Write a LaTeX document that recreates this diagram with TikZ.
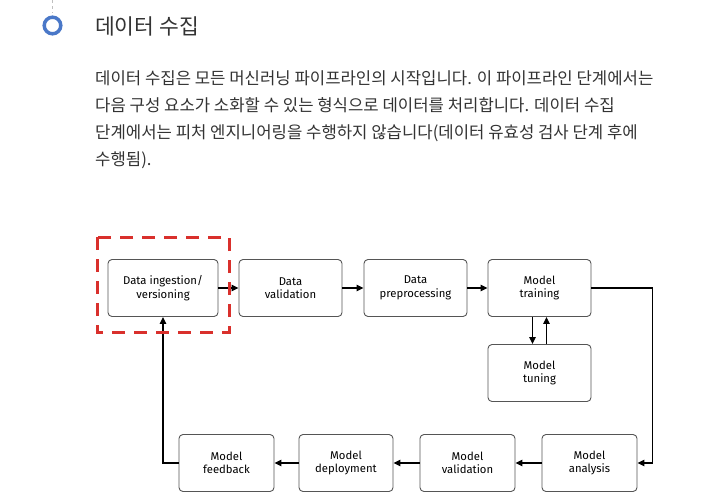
\documentclass[tikz,border=0pt]{standalone}
\usepackage{fontspec}
\setmainfont{Fira Sans}
\newfontfamily\krfont{Noto Sans CJK KR}
\usetikzlibrary{arrows.meta}
\definecolor{ringblue}{HTML}{4A78C8}
\definecolor{markred}{HTML}{D9302C}
\definecolor{textgray}{HTML}{333333}
\definecolor{boxgray}{HTML}{555555}

\begin{document}
\begin{tikzpicture}[x=1pt,y=-1pt]
	\useasboundingbox (0,0) rectangle (717,501);
	% heading
	\draw[gray!50, dashed, line width=0.8pt] (52,0) -- (52,13);
	\draw[ringblue, line width=3.5pt] (52.5,25.5) circle (8.3);
	\node[anchor=west, inner sep=0pt, text=textgray,
	      font=\krfont\fontsize{21.5}{24}\selectfont] (title) at (95,26.5) {데이터 수집};
	\node[anchor=north west, inner sep=0pt, align=left, text=textgray,
	      font=\krfont\fontsize{16.7}{27.3}\selectfont] (para) at (95,70)
		{데이터 수집은 모든 머신러닝 파이프라인의 시작입니다. 이 파이프라인 단계에서는\\
		다음 구성 요소가 소화할 수 있는 형식으로 데이터를 처리합니다. 데이터 수집\\
		단계에서는 피처 엔지니어링을 수행하지 않습니다(데이터 유효성 검사 단계 후에\\
		수행됨).};

	\begin{scope}[every node/.style={draw=boxgray, line width=0.9pt, rounded corners=4pt,
	              align=center, font=\fontsize{11.3}{13.5}\selectfont, minimum height=57pt}]
		\node[minimum width=110pt] (1) at (163,288) {Data ingestion/\\versioning};
		\node[minimum width=103pt] (2) at (290.5,288) {Data\\validation};
		\node[minimum width=103pt] (3) at (415.5,288) {Data\\preprocessing};
		\node[minimum width=103pt] (4) at (539.5,288) {Model\\training};
		\node[minimum width=103pt] (5) at (539.5,373) {Model\\tuning};
		\node[minimum width=95pt] (6) at (589.5,463) {Model\\analysis};
		\node[minimum width=95pt] (7) at (467.5,463) {Model\\validation};
		\node[minimum width=94pt] (8) at (346,463) {Model\\deployment};
		\node[minimum width=95pt] (9) at (226.5,463) {Model\\feedback};
	\end{scope}

	\begin{scope}[>={Triangle[length=7pt,width=6.5pt]}, line width=1.2pt,
	              every edge/.style={draw=black, ->}]
		\path (1) edge (2);
		\path (2) edge (3);
		\path (3) edge (4);
		\path ([xshift=-7pt]4.south) edge ([xshift=-7pt]5.north);
		\path ([xshift=7pt]5.north) edge ([xshift=7pt]4.south);
		\draw[->] (4.east) -- ++(61,0) |- (6.east);
		\path (6) edge (7);
		\path (7) edge (8);
		\path (8) edge (9);
		\draw[->] (9.west) -| (1.south);
	\end{scope}

	% highlighted stage
	\draw[markred, line width=3pt, dash pattern=on 13pt off 9pt] (97,237) rectangle (229,332);
\end{tikzpicture}
\end{document}
